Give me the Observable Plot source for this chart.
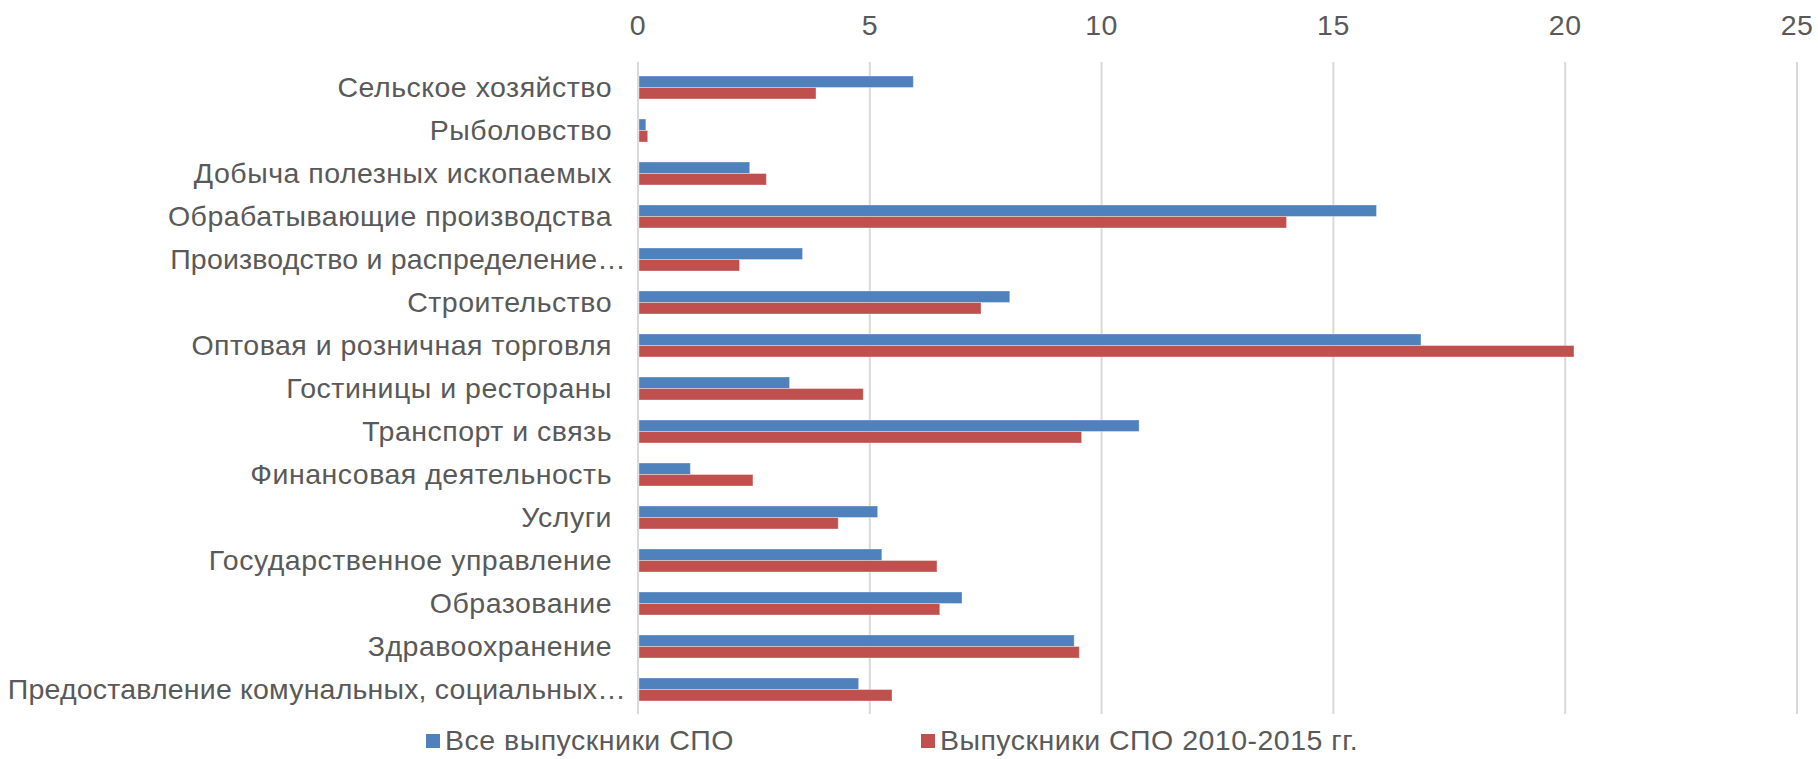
<!DOCTYPE html>
<html>
<head>
<meta charset="utf-8">
<script src="https://cdn.jsdelivr.net/npm/d3@7"></script>
<script src="https://cdn.jsdelivr.net/npm/@observablehq/plot@0.6"></script>
<style>
  html, body { margin: 0; padding: 0; background: #fff; }
  #chart { width: 1818px; height: 722px; }
  #chart svg { display: block; letter-spacing: 0.5px; }
  .legend { display: flex; align-items: center; height: 37px; padding-left: 426px;
    font-family: "Liberation Sans", Arial, sans-serif; font-size: 28.5px; letter-spacing: 0.5px; color: #595959; }
  .legend .item { display: flex; align-items: center; }
  .legend .sw { width: 14px; height: 14px; margin-right: 5px; }
</style>
</head>
<body>
<div id="chart"></div>
<script>
const categories = [
  "Сельское хозяйство",
  "Рыболовство",
  "Добыча полезных ископаемых",
  "Обрабатывающие производства",
  "Производство и распределение…",
  "Строительство",
  "Оптовая и розничная торговля",
  "Гостиницы и рестораны",
  "Транспорт и связь",
  "Финансовая деятельность",
  "Услуги",
  "Государственное управление",
  "Образование",
  "Здравоохранение",
  "Предоставление комунальных, социальных…"
];
const truncated = ["Производство и распределение…", "Предоставление комунальных, социальных…"];
const seriesNames = ["Все выпускники СПО", "Выпускники СПО 2010-2015 гг."];
const allGrads = [5.95, 0.18, 2.42, 15.94, 3.56, 8.03, 16.9, 3.28, 10.82, 1.14, 5.18, 5.27, 7.0, 9.42, 4.77];
const grads2010 = [3.85, 0.22, 2.78, 14.0, 2.2, 7.41, 20.2, 4.87, 9.58, 2.49, 4.33, 6.46, 6.52, 9.53, 5.49];
const xTicks = [0, 5, 10, 15, 20, 25];
const colors = ["#4F81BD", "#C0504D"];

const rowsA = categories.map((c, i) => ({category: c, value: allGrads[i]}));
const rowsB = categories.map((c, i) => ({category: c, value: grads2010[i]}));

const W = 1818, H = 722;
const mTop = 62, mBottom = 8, mLeft = 637.5, mRight = 21.5;
const pInner = 0.47;
const step = (H - mTop - mBottom) / categories.length;
const half = step * (1 - pInner) / 2;
const font = "'Liberation Sans', Arial, sans-serif";

const chart = Plot.plot({
  width: W,
  height: H,
  marginTop: mTop,
  marginBottom: mBottom,
  marginLeft: mLeft,
  marginRight: mRight,
  style: {fontFamily: font, fontSize: "28.5px", color: "#595959", background: "#fff"},
  x: {domain: [0, 25]},
  y: {type: "band", domain: categories, paddingInner: pInner, paddingOuter: pInner / 2},
  marks: [
    Plot.ruleX(xTicks, {stroke: "#D9D9D9", strokeWidth: 2}),
    Plot.axisX(xTicks, {anchor: "top", tickSize: 0, tickPadding: 28, label: null, fill: "#595959"}),
    Plot.axisY(categories.filter(c => !truncated.includes(c)), {tickSize: 0, tickPadding: 26, label: null, fill: "#595959"}),
    Plot.axisY(truncated, {tickSize: 0, tickPadding: 12, label: null, fill: "#595959"}),
    Plot.barX(rowsA, {y: "category", x: "value", fill: colors[0], insetLeft: 1.5, insetBottom: half, stroke: "#ffffff", strokeOpacity: 0.35, strokeWidth: 1}),
    Plot.barX(rowsB, {y: "category", x: "value", fill: colors[1], insetLeft: 1.5, insetTop: half, stroke: "#ffffff", strokeOpacity: 0.35, strokeWidth: 1})
  ]
});
d3.select(chart).selectAll("text")
  .filter(function() { return truncated.includes(this.textContent); })
  .style("letter-spacing", "0.2px");
document.getElementById("chart").appendChild(chart);

const legend = document.createElement("div");
legend.className = "legend";
seriesNames.forEach((name, i) => {
  const item = document.createElement("div");
  item.className = "item";
  if (i > 0) item.style.marginLeft = "187px";
  const sw = document.createElement("span");
  sw.className = "sw";
  sw.style.background = colors[i];
  const t = document.createElement("span");
  t.textContent = name;
  item.appendChild(sw);
  item.appendChild(t);
  legend.appendChild(item);
});
document.body.appendChild(legend);
</script>
</body>
</html>
